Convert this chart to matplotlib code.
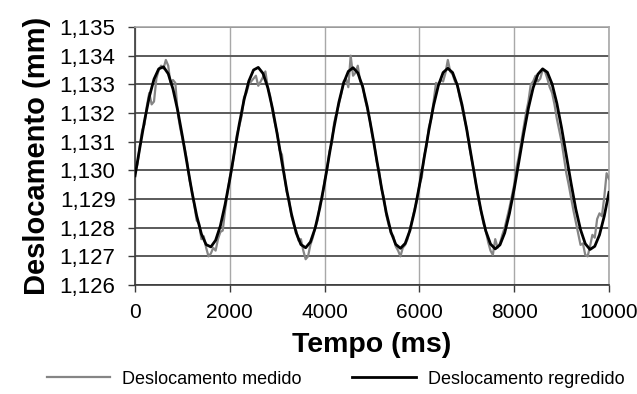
import matplotlib
matplotlib.use('Agg')
import matplotlib.pyplot as plt
from matplotlib.ticker import FuncFormatter
import numpy as np

plt.rcParams['font.family'] = ['Liberation Sans', 'DejaVu Sans']

# tempo das amostras (ms)
t_reg = np.arange(0, 10001, 100)
t_med = np.arange(0, 10001, 50)

# curva regredida (mm), a cada 100 ms
desl_regredido = [
    1.12981, 1.13078, 1.13173, 1.13256, 1.13318, 1.13354, 1.13361, 1.13337, 1.13284, 1.13209,
    1.13118, 1.13021, 1.12925, 1.12842, 1.12778, 1.12741, 1.12733, 1.12756, 1.12806, 1.12881,
    1.12969, 1.13067, 1.13162, 1.13246, 1.13311, 1.13350, 1.13359, 1.13338, 1.13289, 1.13216,
    1.13126, 1.13028, 1.12932, 1.12848, 1.12782, 1.12741, 1.12730, 1.12750, 1.12798, 1.12870,
    1.12957, 1.13055, 1.13151, 1.13237, 1.13304, 1.13345, 1.13358, 1.13340, 1.13293, 1.13222,
    1.13133, 1.13036, 1.12940, 1.12853, 1.12785, 1.12742, 1.12728, 1.12745, 1.12790, 1.12860,
    1.12946, 1.13043, 1.13140, 1.13227, 1.13296, 1.13341, 1.13356, 1.13341, 1.13297, 1.13228,
    1.13141, 1.13044, 1.12947, 1.12859, 1.12789, 1.12743, 1.12726, 1.12740, 1.12782, 1.12850,
    1.12935, 1.13031, 1.13128, 1.13217, 1.13288, 1.13335, 1.13354, 1.13342, 1.13301, 1.13234,
    1.13148, 1.13052, 1.12955, 1.12865, 1.12793, 1.12744, 1.12724, 1.12735, 1.12775, 1.12840,
    1.12923,
]

# deslocamento medido (mm), a cada 50 ms
desl_medido = [
    1.12995, 1.13020, 1.13085, 1.13140, 1.13160, 1.13225, 1.13270, 1.13230, 1.13240, 1.13320,
    1.13350, 1.13365, 1.13355, 1.13385, 1.13365, 1.13300, 1.13315, 1.13305, 1.13200, 1.13150,
    1.13110, 1.13075, 1.13030, 1.12965, 1.12930, 1.12880, 1.12825, 1.12815, 1.12760, 1.12770,
    1.12730, 1.12700, 1.12710, 1.12730, 1.12720, 1.12760, 1.12785, 1.12790, 1.12860, 1.12920,
    1.12975, 1.13010, 1.13070, 1.13125, 1.13155, 1.13190, 1.13255, 1.13270, 1.13300, 1.13310,
    1.13320, 1.13330, 1.13295, 1.13310, 1.13325, 1.13345, 1.13290, 1.13260, 1.13205, 1.13165,
    1.13130, 1.13070, 1.13055, 1.12985, 1.12925, 1.12895, 1.12840, 1.12810, 1.12790, 1.12755,
    1.12760, 1.12720, 1.12690, 1.12700, 1.12740, 1.12765, 1.12800, 1.12825, 1.12880, 1.12905,
    1.12965, 1.13000, 1.13065, 1.13095, 1.13165, 1.13200, 1.13230, 1.13265, 1.13310, 1.13320,
    1.13290, 1.13400, 1.13330, 1.13340, 1.13365, 1.13310, 1.13300, 1.13250, 1.13215, 1.13180,
    1.13125, 1.13090, 1.13030, 1.12995, 1.12935, 1.12905, 1.12845, 1.12810, 1.12780, 1.12770,
    1.12735, 1.12720, 1.12700, 1.12730, 1.12740, 1.12760, 1.12795, 1.12830, 1.12865, 1.12895,
    1.12950, 1.12975, 1.13050, 1.13085, 1.13150, 1.13180, 1.13240, 1.13305, 1.13300, 1.13315,
    1.13310, 1.13340, 1.13385, 1.13345, 1.13335, 1.13310, 1.13300, 1.13255, 1.13220, 1.13180,
    1.13145, 1.13085, 1.13040, 1.13000, 1.12945, 1.12895, 1.12860, 1.12815, 1.12790, 1.12750,
    1.12720, 1.12705, 1.12760, 1.12730, 1.12745, 1.12775, 1.12800, 1.12835, 1.12870, 1.12910,
    1.12950, 1.13010, 1.13050, 1.13100, 1.13150, 1.13200, 1.13240, 1.13300, 1.13310, 1.13330,
    1.13310, 1.13320, 1.13350, 1.13345, 1.13320, 1.13290, 1.13270, 1.13230, 1.13180, 1.13140,
    1.13100, 1.13045, 1.12990, 1.12950, 1.12905, 1.12860, 1.12820, 1.12780, 1.12740, 1.12745,
    1.12705, 1.12700, 1.12735, 1.12775, 1.12765, 1.12830, 1.12850, 1.12840, 1.12905, 1.12990,
    1.12970,
]

x_ticks = [0, 2000, 4000, 6000, 8000, 10000]
y_ticks = [1.126, 1.127, 1.128, 1.129, 1.130, 1.131, 1.132, 1.133, 1.134, 1.135]

fig = plt.figure(figsize=(6.37, 3.94), dpi=100)
fig.subplots_adjust(left=0.212, right=0.956, top=0.9315, bottom=0.2766)
ax = fig.add_subplot(111)

ax.plot(t_med, desl_medido, color='#858585', lw=1.6, label='Deslocamento medido', zorder=3)
ax.plot(t_reg, desl_regredido, color='black', lw=2.0, label='Deslocamento regredido', zorder=4)

ax.set_xlim(0, 10000)
ax.set_ylim(1.126, 1.135)
ax.set_xticks(x_ticks)
ax.set_yticks(y_ticks)
ax.yaxis.set_major_formatter(FuncFormatter(lambda v, p: ('%.3f' % v).replace('.', ',')))

# grelha: horizontais escuras, verticais claras
ax.yaxis.grid(True, color='#5a5a5a', lw=1.4, zorder=1)
ax.xaxis.grid(True, color='#a8a8a8', lw=1.0, zorder=1)
ax.set_axisbelow(True)

ax.spines['top'].set_color('#a8a8a8')
ax.spines['right'].set_color('#a8a8a8')
ax.spines['left'].set_color('#3a3a3a')
ax.spines['bottom'].set_color('#3a3a3a')
for s in ax.spines.values():
    s.set_linewidth(1.2)

ax.tick_params(axis='both', direction='out', length=5, width=1.0, color='#3a3a3a',
               labelsize=16)
ax.tick_params(axis='y', pad=9)
ax.tick_params(axis='x', pad=8, labelsize=15)

ax.set_xlabel('Tempo (ms)', fontsize=20.5, fontweight='bold', labelpad=7)
ax.set_ylabel('Deslocamento (mm)', fontsize=21, fontweight='bold', labelpad=6)

fig.legend(loc='center', bbox_to_anchor=(0.527, 0.038), ncol=2, frameon=False,
           fontsize=13, handlelength=3.5, handletextpad=0.7, columnspacing=2.8)

fig.savefig('out.png', dpi=100)
